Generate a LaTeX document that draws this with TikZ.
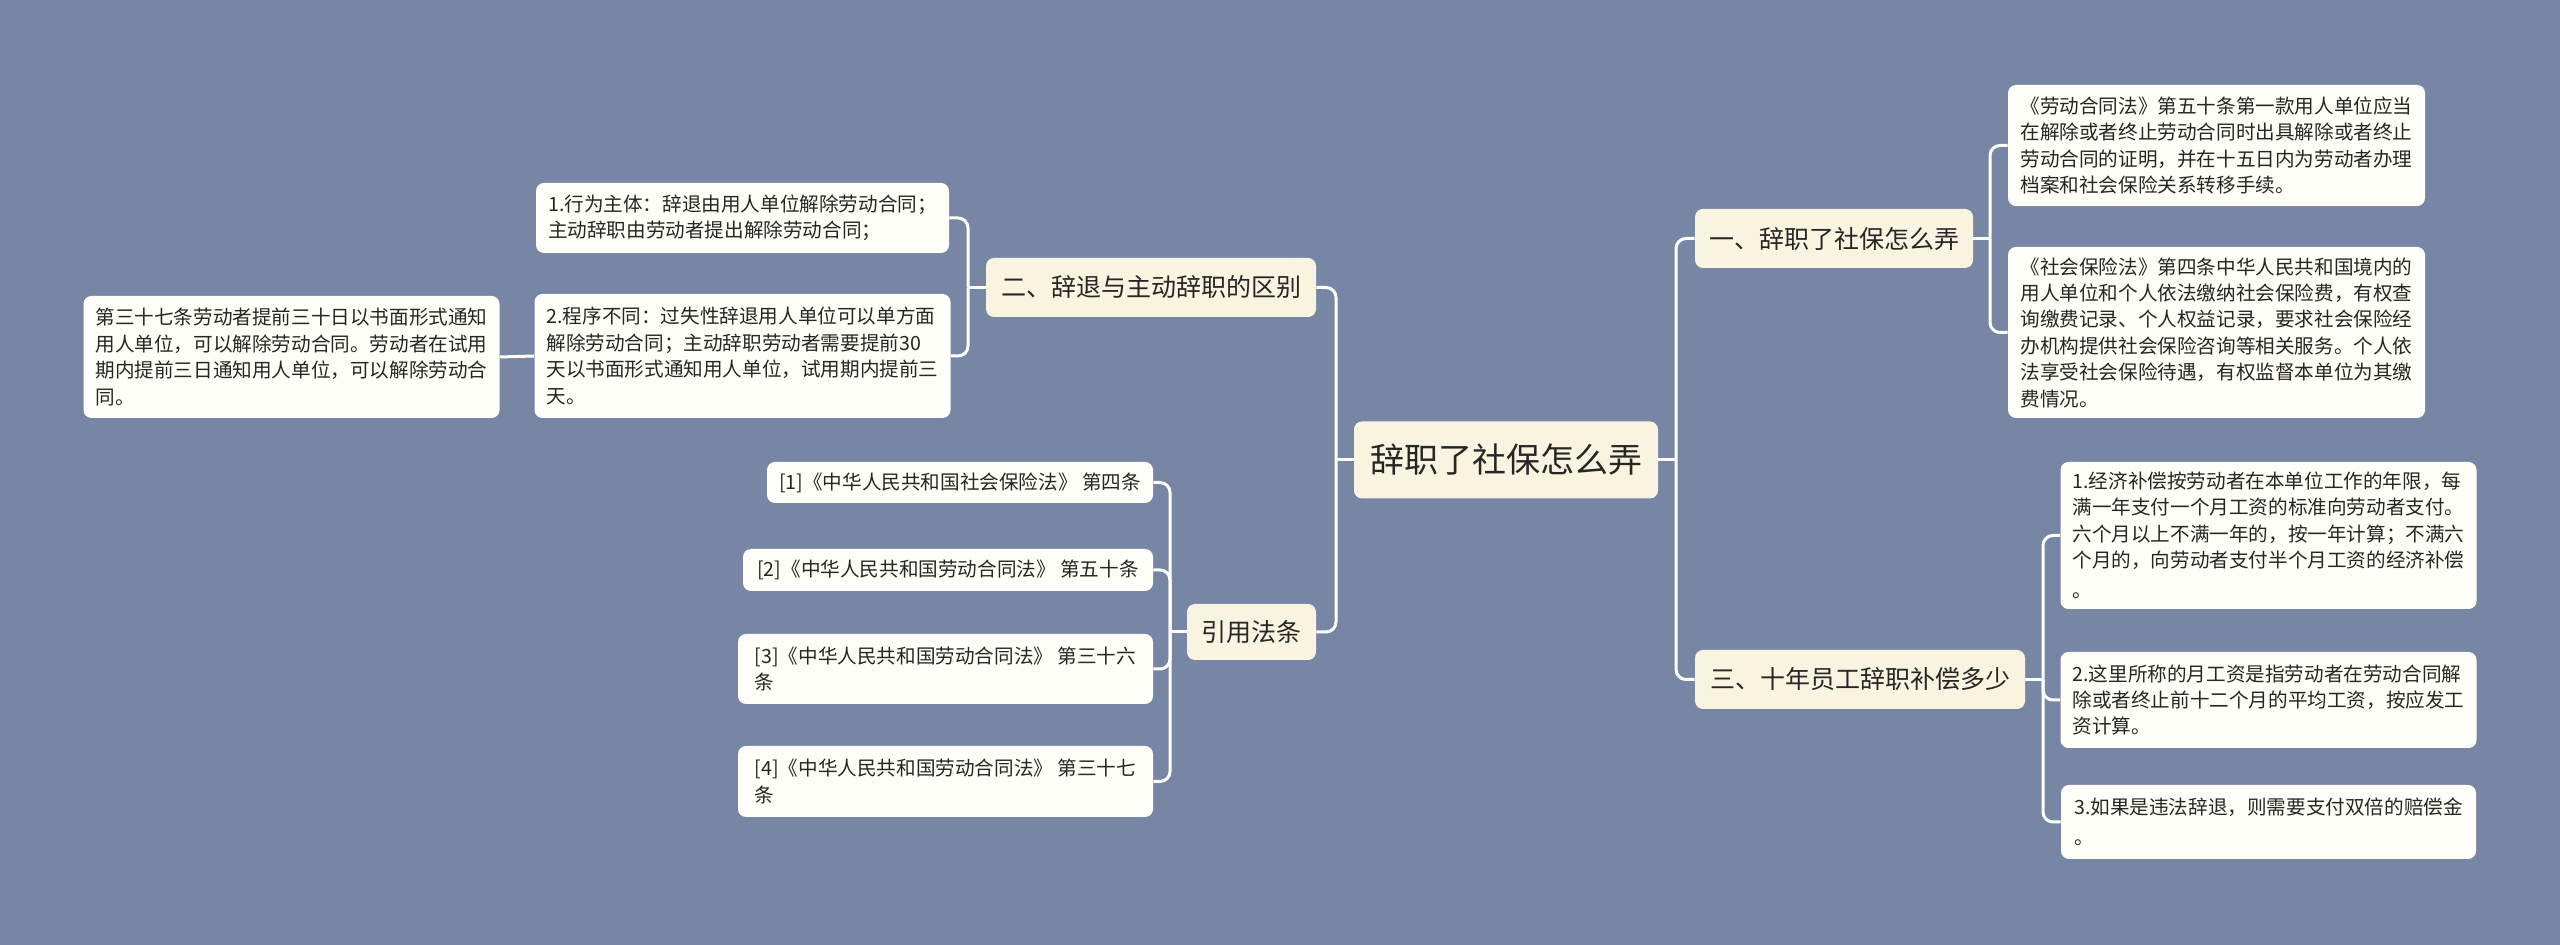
\documentclass[tikz,border=0pt]{standalone}
\usepackage{fontspec}
\setmainfont{Noto Sans CJK SC}
\definecolor{bg}{HTML}{7886A6}
\definecolor{cream}{HTML}{F8F4E0}
\definecolor{leafc}{HTML}{FFFEF8}
\definecolor{ink}{HTML}{262626}
\begin{document}
\begin{tikzpicture}[x=0.5pt,y=-0.5pt,
 box/.style={rounded corners=4pt, inner xsep=6pt, inner ysep=3pt, align=left, text=ink},
 rootbox/.style={box, fill=cream, font=\fontsize{17}{20}\selectfont},
 branch/.style={box, fill=cream, font=\fontsize{12.5}{15}\selectfont},
 leafbox/.style={box, fill=leafc, font=\fontsize{9.8}{13.2}\selectfont},
 conn/.style={draw=white, line width=1.5pt},
 elbow/.style={conn, rounded corners=5pt}]
\fill[bg] (0,0) rectangle (2560,945);
\useasboundingbox (0,0) rectangle (2560,945);

% root and branches
\node[rootbox, minimum width=152pt, minimum height=38.5pt] (root) at (1506,460) {辞职了社保怎么弄};
\node[branch, minimum width=139pt, minimum height=29.5pt] (b1) at (1834,238.5) {一、辞职了社保怎么弄};
\node[branch, minimum width=165pt, minimum height=29.5pt] (b2) at (1151,287.5) {二、辞退与主动辞职的区别};
\node[branch, minimum width=64.5pt, minimum height=28pt] (b3) at (1251.5,632) {引用法条};
\node[branch, minimum width=165pt, minimum height=29.5pt] (b4) at (1860,679.5) {三、十年员工辞职补偿多少};

% left leaves
\node[leafbox, minimum width=206.5pt, minimum height=35pt] (l1) at (742.5,218) {1.行为主体：辞退由用人单位解除劳动合同；\\主动辞职由劳动者提出解除劳动合同；};
\node[leafbox, minimum width=206.5pt, minimum height=62pt] (l2) at (742.5,356) {2.程序不同：过失性辞退用人单位可以单方面\\解除劳动合同；主动辞职劳动者需要提前30\\天以书面形式通知用人单位，试用期内提前三\\天。};
\node[leafbox, minimum width=206.5pt, minimum height=61pt] (l3) at (291.5,357) {第三十七条劳动者提前三十日以书面形式通知\\用人单位，可以解除劳动合同。劳动者在试用\\期内提前三日通知用人单位，可以解除劳动合\\同。};

% citations
\node[leafbox, minimum width=193pt, minimum height=20.5pt] (c1) at (960,482.5) {[1]《中华人民共和国社会保险法》 第四条};
\node[leafbox, minimum width=205pt, minimum height=21pt] (c2) at (948,570) {[2]《中华人民共和国劳动合同法》 第五十条};
\node[leafbox, minimum width=207.5pt, minimum height=35pt] (c3) at (945.5,669) {[3]《中华人民共和国劳动合同法》 第三十六\\条};
\node[leafbox, minimum width=207.5pt, minimum height=35.5pt] (c4) at (945.5,781.5) {[4]《中华人民共和国劳动合同法》 第三十七\\条};

% right leaves
\node[leafbox, minimum width=208.5pt, minimum height=60.5pt] (r1) at (2216.5,145.5) {《劳动合同法》第五十条第一款用人单位应当\\在解除或者终止劳动合同时出具解除或者终止\\劳动合同的证明，并在十五日内为劳动者办理\\档案和社会保险关系转移手续。};
\node[leafbox, minimum width=208.5pt, minimum height=85.5pt] (r2) at (2216.5,332.5) {《社会保险法》第四条中华人民共和国境内的\\用人单位和个人依法缴纳社会保险费，有权查\\询缴费记录、个人权益记录，要求社会保险经\\办机构提供社会保险咨询等相关服务。个人依\\法享受社会保险待遇，有权监督本单位为其缴\\费情况。};
\node[leafbox, minimum width=207.5pt, minimum height=73.5pt] (r3) at (2268.5,535.5) {1.经济补偿按劳动者在本单位工作的年限，每\\满一年支付一个月工资的标准向劳动者支付。\\六个月以上不满一年的，按一年计算；不满六\\个月的，向劳动者支付半个月工资的经济补偿\\[2pt]。};
\node[leafbox, minimum width=207.5pt, minimum height=48pt] (r4) at (2268.5,700) {2.这里所称的月工资是指劳动者在劳动合同解\\除或者终止前十二个月的平均工资，按应发工\\资计算。};
\node[leafbox, minimum width=207.5pt, minimum height=37pt] (r5) at (2268.5,822) {3.如果是违法辞退，则需要支付双倍的赔偿金\\[2pt]。};

% trunk coordinates
\coordinate (tr) at (1676,460);
\coordinate (tl) at (1336,460);
\coordinate (t1) at (1990,238.5);
\coordinate (t4) at (2043,679.5);
\coordinate (t2) at (968,287.5);
\coordinate (t3) at (1170,632);

% root connectors
\draw[conn] (root.east) -- (tr);
\draw[elbow] (tr) |- (b1.west);
\draw[elbow] (tr) |- (b4.west);
\draw[conn] (root.west) -- (tl);
\draw[elbow] (tl) |- (b2.east);
\draw[elbow] (tl) |- (b3.east);

% branch 1
\draw[conn] (b1.east) -- (t1);
\draw[elbow] (t1) |- (r1.west);
\draw[elbow] (t1) |- (r2.west);
% branch 4
\draw[conn] (b4.east) -- (t4);
\draw[elbow] (t4) |- (r3.west);
\draw[elbow] (t4) |- (r4.west);
\draw[elbow] (t4) |- (r5.west);
% branch 2
\draw[conn] (b2.west) -- (t2);
\draw[elbow] (t2) |- (l1.east);
\draw[elbow] (t2) |- (l2.east);
\draw[conn] (l2.west) -- (l3.east);
% branch 3
\draw[conn] (b3.west) -- (t3);
\draw[elbow] (t3) |- (c1.east);
\draw[elbow] (t3) |- (c2.east);
\draw[elbow] (t3) |- (c3.east);
\draw[elbow] (t3) |- (c4.east);
\end{tikzpicture}
\end{document}
